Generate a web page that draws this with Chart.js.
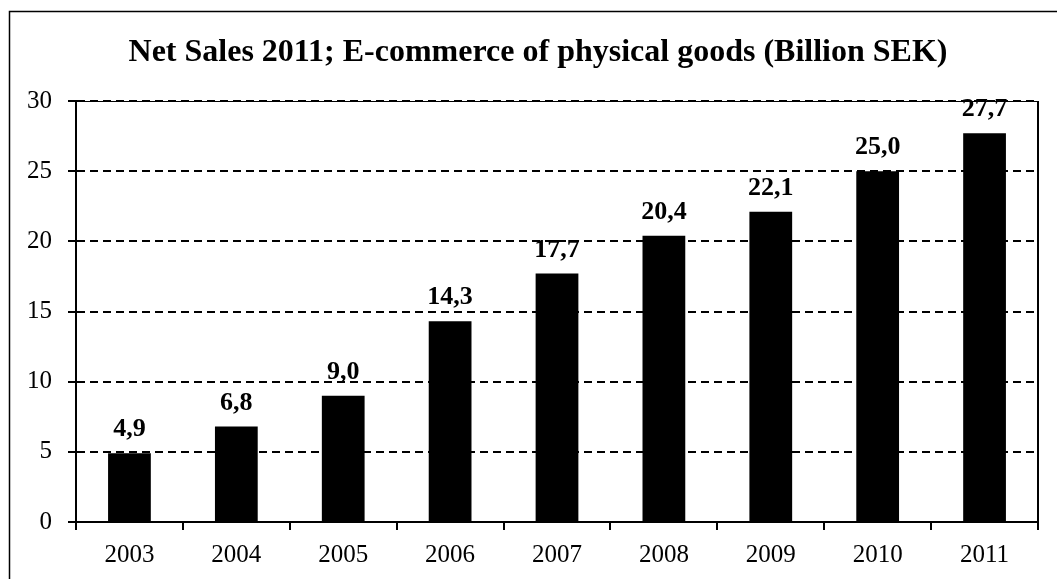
<!DOCTYPE html>
<html>
<head>
<meta charset="utf-8">
<title>Net Sales 2011</title>
<script src="https://cdn.jsdelivr.net/npm/chart.js@4"></script>
<style>
  html, body { margin: 0; padding: 0; background: #fff; }
  #wrap { width: 1057px; height: 579px; position: relative; }
</style>
</head>
<body>
<div id="wrap"><canvas id="grafica"></canvas></div>
<script>
// ── Datos ──────────────────────────────────────────────
const titulo = "Net Sales 2011; E-commerce of physical goods (Billion SEK)";
const years  = ["2003", "2004", "2005", "2006", "2007", "2008", "2009", "2010", "2011"];
const sales  = [4.9, 6.8, 9.0, 14.3, 17.7, 20.4, 22.1, 25.0, 27.7];
const yTicks = [0, 5, 10, 15, 20, 25, 30];

const SERIF = "'Liberation Serif', 'Times New Roman', serif";

// Marco exterior, título, borde superior/derecho del área y etiquetas de valor
const decoracion = {
  id: "decoracion",
  beforeDraw(chart) {
    const ctx = chart.ctx;
    ctx.save();
    ctx.strokeStyle = "#000";
    ctx.lineWidth = 1.5;
    ctx.strokeRect(9.5, 11.5, 2000, 2000);

    ctx.fillStyle = "#000";
    ctx.font = "bold 32px " + SERIF;
    ctx.textAlign = "center";
    ctx.textBaseline = "alphabetic";
    ctx.fillText(titulo, 538, 61);
    ctx.restore();
  },
  afterDraw(chart) {
    const { ctx, chartArea: a } = chart;
    ctx.save();
    ctx.strokeStyle = "#000";
    ctx.lineWidth = 1;
    ctx.beginPath();
    ctx.moveTo(a.left, a.top + 0.5);
    ctx.lineTo(a.right, a.top + 0.5);
    ctx.stroke();
    ctx.lineWidth = 2;
    ctx.beginPath();
    ctx.moveTo(a.right, a.top);
    ctx.lineTo(a.right, a.bottom);
    ctx.stroke();

    // etiquetas sobre cada barra
    ctx.fillStyle = "#000";
    ctx.font = "bold 26px " + SERIF;
    ctx.textAlign = "center";
    ctx.textBaseline = "alphabetic";
    chart.getDatasetMeta(0).data.forEach((bar, i) => {
      const txt = sales[i].toFixed(1).replace(".", ",");
      ctx.fillText(txt, bar.x, bar.y - 17);
    });
    ctx.restore();
  }
};

new Chart(document.getElementById("grafica"), {
  type: "bar",
  data: {
    labels: years,
    datasets: [{
      data: sales,
      backgroundColor: "#000",
      borderWidth: 0,
      barPercentage: 0.4,
      categoryPercentage: 1
    }]
  },
  options: {
    responsive: true,
    maintainAspectRatio: false,
    devicePixelRatio: 1,
    animation: false,
    layout: { padding: { left: 0, right: 19, top: 101, bottom: 0 } },
    plugins: {
      legend: { display: false },
      tooltip: { enabled: false },
      title: { display: false }
    },
    scales: {
      x: {
        afterFit: (s) => { s.height = 57; },
        grid: {
          display: true,
          drawOnChartArea: false,
          color: "#000",
          lineWidth: 2,
          tickLength: 8
        },
        border: { color: "#000", width: 2 },
        ticks: {
          color: "#000",
          padding: 10,
          font: { family: SERIF, size: 25 }
        }
      },
      y: {
        min: 0,
        max: 30,
        afterFit: (s) => { s.width = 76; },
        afterBuildTicks: (s) => { s.ticks = yTicks.map(v => ({ value: v })); },
        grid: {
          color: "#000",
          lineWidth: 2,
          tickLength: 8,
          tickWidth: 2
        },
        border: { color: "#000", width: 2, dash: [8, 5] },
        ticks: {
          color: "#000",
          padding: 16,
          font: { family: SERIF, size: 25 }
        }
      }
    }
  },
  plugins: [decoracion]
});
</script>
</body>
</html>
